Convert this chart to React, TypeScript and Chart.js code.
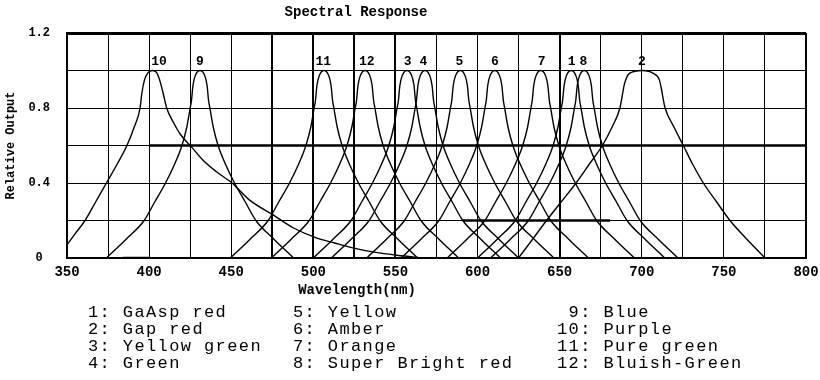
import React, { useEffect, useRef } from 'react';
import { Chart, registerables } from 'chart.js';

Chart.register(...registerables);

// Shared relative-output levels for the narrow LED curves (left base -> peak -> right base)
const levels = [0, 0.1, 0.2, 0.3, 0.4, 0.5, 0.6, 0.7, 0.8, 0.84, 0.92, 0.97, 1, 0.97, 0.92, 0.84, 0.8, 0.7, 0.6, 0.5, 0.4, 0.3, 0.2, 0.1, 0];

// Wavelengths (nm) at which each curve reaches the levels above
const wl1 = [600, 612, 623, 629.5, 636, 641.5, 646, 649, 651, 651.8, 652.7, 654, 657, 660, 661.3, 662.2, 663, 665, 668, 672.5, 678, 684.5, 691, 702, 714];
const wl3 = [500, 512, 523, 529.5, 536, 541.5, 546, 549, 551, 551.8, 552.7, 554, 557, 560, 561.3, 562.2, 563, 565, 568, 572.5, 578, 584.5, 591, 602, 614];
const wl4 = [511, 523, 534, 540.5, 547, 552.5, 557, 560, 562, 562.8, 563.7, 565, 568, 571, 572.3, 573.2, 574, 576, 579, 583.5, 589, 595.5, 602, 613, 625];
const wl5 = [532.5, 544.5, 555.5, 562, 568.5, 574, 578.5, 581.5, 583.5, 584.3, 585.2, 586.5, 589.5, 592.5, 593.8, 594.7, 595.5, 597.5, 600.5, 605, 610.5, 617, 623.5, 634.5, 646.5];
const wl6 = [553.5, 565.5, 576.5, 583, 589.5, 595, 599.5, 602.5, 604.5, 605.3, 606.2, 607.5, 610.5, 613.5, 614.8, 615.7, 616.5, 618.5, 621.5, 626, 631.5, 638, 644.5, 655.5, 667.5];
const wl7 = [581.5, 593.5, 604.5, 611, 617.5, 623, 627.5, 630.5, 632.5, 633.3, 634.2, 635.5, 638.5, 641.5, 642.8, 643.7, 644.5, 646.5, 649.5, 654, 659.5, 666, 672.5, 683.5, 695.5];
const wl8 = [608, 620, 631, 637.5, 644, 649.5, 654, 657, 659, 659.8, 660.7, 662, 665, 668, 669.3, 670.2, 671, 673, 676, 680.5, 686, 692.5, 699, 710, 722];
const wl9 = [374, 386, 397, 403.5, 410, 415.5, 420, 423, 425, 425.8, 426.7, 428, 431, 434, 435.3, 436.2, 437, 439, 442, 446.5, 452, 458.5, 465, 476, 488];
const wl11 = [449.5, 461.5, 472.5, 479, 485.5, 491, 495.5, 498.5, 500.5, 501.3, 502.2, 503.5, 506.5, 509.5, 510.8, 511.7, 512.5, 514.5, 517.5, 522, 527.5, 534, 540.5, 551.5, 563.5];
const wl12 = [474.5, 486.5, 497.5, 504, 510.5, 516, 520.5, 523.5, 525.5, 526.3, 527.2, 528.5, 531.5, 534.5, 535.8, 536.7, 537.5, 539.5, 542.5, 547, 552.5, 559, 565.5, 576.5, 588.5];

// Curve 2 (GaP red) - wider
const wl2 = [625, 633.5, 642, 651, 660, 668, 676, 682, 686.7, 688, 689.5, 692.5, 700.5, 707, 710.7, 712, 713, 714.2, 719.5, 725.3, 731, 737.5, 745.5, 753.7, 764, 775];
const val2 = [0, 0.1, 0.2, 0.3, 0.4, 0.5, 0.6, 0.7, 0.8, 0.86, 0.93, 0.985, 1, 0.985, 0.95, 0.9, 0.85, 0.8, 0.7, 0.6, 0.5, 0.4, 0.3, 0.2, 0.1, 0];

// Curve 10 (Purple) - long tail
const wl10 = [350, 355, 361, 367.5, 374, 380.5, 386.5, 391, 394.5, 395.6, 397.2, 399.5, 402, 404.5, 406.4, 408.5, 410.7, 415, 419, 426, 433, 441, 450.5, 461, 475.5, 488, 501, 513, 526, 538, 551, 567];
const val10 = [0.07, 0.13, 0.2, 0.3, 0.4, 0.5, 0.6, 0.7, 0.8, 0.88, 0.95, 0.99, 1, 0.99, 0.95, 0.88, 0.8, 0.72, 0.66, 0.59, 0.52, 0.46, 0.4, 0.31, 0.23, 0.16, 0.11, 0.08, 0.05, 0.03, 0.015, 0];

// Heavy rule segments printed on the original grid
const heavy06X = [400, 800];
const heavy06Y = [0.6, 0.6];
const heavy02X = [591, 680.7];
const heavy02Y = [0.2, 0.2];
const heavy00X = [384, 400];
const heavy00Y = [0, 0];

const heavyGridX = [350, 475, 500, 525, 550, 650, 800];

const peakLabels = ['1', '2', '3', '4', '5', '6', '7', '8', '9', '10', '11', '12'];
const peakLabelNm = [657.3, 700, 557.5, 567, 589, 610.5, 639, 664.5, 431, 406, 506, 532.5];

const legendCol1 = ['1: GaAsp red', '2: Gap red', '3: Yellow green', '4: Green'];
const legendCol2 = ['5: Yellow', '6: Amber', '7: Orange', '8: Super Bright red'];
const legendCol3 = [' 9: Blue', '10: Purple', '11: Pure green', '12: Bluish-Green'];

const titleText = 'Spectral Response';
const xTitleText = 'Wavelength(nm)';
const yTitleText = 'Relative Output';

const toPts = (xs: number[], ys: number[]) => xs.map((x, i) => ({ x, y: ys[i] }));

export default function App() {
  const ref = useRef<HTMLCanvasElement | null>(null);

  useEffect(() => {
    document.body.style.margin = '0';
    const canvas = ref.current;
    if (!canvas) return;

    const curve = (data: { x: number; y: number }[]) => ({
      data,
      borderColor: '#000',
      borderWidth: 1.4,
      pointRadius: 0,
      fill: false,
      cubicInterpolationMode: 'monotone' as const,
    });
    const heavy = (data: { x: number; y: number }[]) => ({
      data,
      borderColor: '#000',
      borderWidth: 2.5,
      pointRadius: 0,
      fill: false,
      tension: 0,
    });

    const textPlugin = {
      id: 'texts',
      beforeDraw(chart: any) {
        const { ctx } = chart;
        ctx.save();
        ctx.fillStyle = '#fff';
        ctx.fillRect(0, 0, chart.width, chart.height);
        ctx.restore();
      },
      afterDraw(chart: any) {
        const { ctx } = chart;
        const xs = chart.scales.x;
        const ys = chart.scales.y;
        ctx.save();
        ctx.fillStyle = '#000';
        ctx.textAlign = 'center';
        ctx.textBaseline = 'middle';
        ctx.font = 'bold 14px "Liberation Mono"';
        ctx.fillText(titleText, 356, 12);
        ctx.fillText(xTitleText, 357, 290);
        ctx.font = 'bold 13px "Liberation Mono"';
        peakLabels.forEach((t, i) => {
          ctx.fillText(t, xs.getPixelForValue(peakLabelNm[i]), ys.getPixelForValue(1) - 9);
        });
        ctx.textAlign = 'left';
        ctx.font = '17px "Liberation Mono"';
        ctx.letterSpacing = '1.4px';
        const cols: [string[], number][] = [[legendCol1, 88], [legendCol2, 293], [legendCol3, 557]];
        cols.forEach(([arr, x0]) => {
          arr.forEach((t, i) => ctx.fillText(t, x0, 312 + 17 * i));
        });
        ctx.restore();
      },
    };

    const chart = new Chart(canvas, {
      type: 'line',
      data: {
        datasets: [
          curve(toPts(wl1, levels)),
          curve(toPts(wl2, val2)),
          curve(toPts(wl3, levels)),
          curve(toPts(wl4, levels)),
          curve(toPts(wl5, levels)),
          curve(toPts(wl6, levels)),
          curve(toPts(wl7, levels)),
          curve(toPts(wl8, levels)),
          curve(toPts(wl9, levels)),
          curve(toPts(wl10, val10)),
          curve(toPts(wl11, levels)),
          curve(toPts(wl12, levels)),
          heavy(toPts(heavy06X, heavy06Y)),
          heavy(toPts(heavy02X, heavy02Y)),
          heavy(toPts(heavy00X, heavy00Y)),
        ] as any,
      },
      options: {
        animation: false,
        responsive: false,
        maintainAspectRatio: false,
        layout: { padding: { top: 33, right: 14, left: 0, bottom: 0 } },
        plugins: {
          legend: { display: false },
          tooltip: { enabled: false },
          title: { display: false },
        },
        scales: {
          x: {
            type: 'linear',
            min: 350,
            max: 800,
            afterFit: (s: any) => {
              s.height = 122;
              s.paddingLeft = 0;
              s.paddingRight = 0;
            },
            ticks: {
              stepSize: 25,
              autoSkip: false,
              maxRotation: 0,
              padding: 6,
              color: '#000',
              font: { family: 'Liberation Mono', size: 14, weight: 'bold' },
              callback: (v: any) => (Math.round(v) % 50 === 0 ? String(Math.round(v)) : ''),
            },
            grid: {
              color: '#000',
              drawTicks: false,
              lineWidth: (c: any) => (c.tick && heavyGridX.includes(Math.round(c.tick.value)) ? 2 : 1),
            },
            border: { display: true, color: '#000', width: 2 },
          },
          y: {
            type: 'linear',
            min: 0,
            max: 1.2,
            afterFit: (s: any) => {
              s.width = 67;
              s.paddingTop = 0;
              s.paddingBottom = 0;
            },
            ticks: {
              stepSize: 0.2,
              autoSkip: false,
              padding: 17,
              crossAlign: 'center',
              color: '#000',
              font: { family: 'Liberation Mono', size: 12, weight: 'bold' },
              callback: (v: any) => {
                const k = Math.round(v * 10);
                if (k % 4 !== 0) return '';
                return k === 0 ? '0' : (k / 10).toFixed(1);
              },
            },
            grid: {
              color: '#000',
              drawTicks: false,
              lineWidth: (c: any) => {
                if (!c.tick) return 1;
                const k = Math.round(c.tick.value * 10);
                return k === 12 ? 3 : k === 0 ? 2 : 1;
              },
            },
            border: { display: true, color: '#000', width: 2 },
            title: {
              display: true,
              text: yTitleText,
              color: '#000',
              padding: { top: 4, bottom: 0 },
              font: { family: 'Liberation Mono', size: 12, weight: 'bold' },
            },
          },
        },
      } as any,
      plugins: [textPlugin],
    });

    return () => chart.destroy();
  }, []);

  return (
    <div style={{ width: 820, height: 380 }}>
      <canvas ref={ref} width={820} height={380} style={{ display: 'block' }} />
    </div>
  );
}
